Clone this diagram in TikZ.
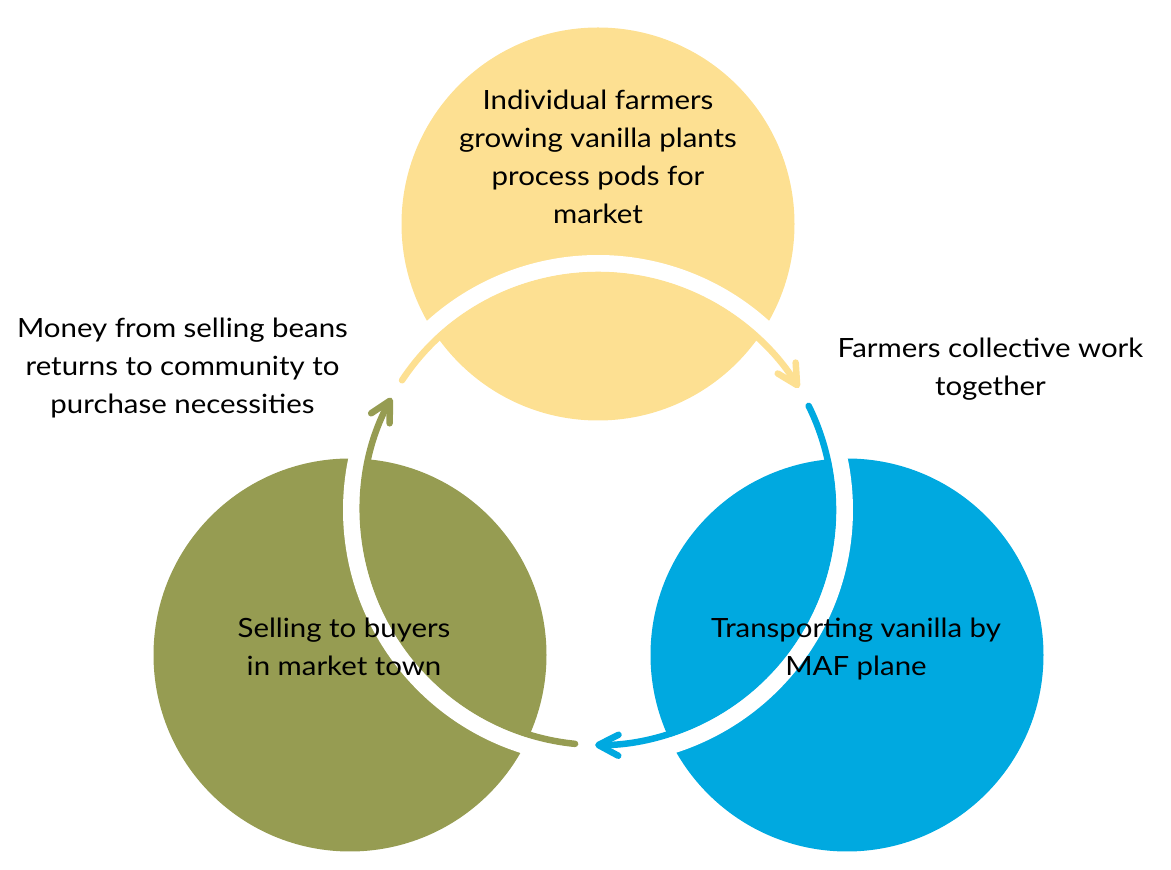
\documentclass[tikz,border=0pt]{standalone}
\usepackage{fontspec}
\setmainfont{Lato}[FakeStretch=1.11]
\usetikzlibrary{arrows.meta}
\definecolor{cyel}{RGB}{253,224,146}
\definecolor{cgrn}{RGB}{150,156,82}
\definecolor{cblu}{RGB}{0,169,224}
\begin{document}
\begin{tikzpicture}[x=1pt,y=1pt,
  disc/.style={circle,draw=none,inner sep=0pt,minimum size=393pt},
  band/.style={draw=white,line width=17pt},
  flow/.style={line width=6.5pt,line cap=round,-{Straight Barb[length=20pt,width=21pt,round]}},
  lbl/.style={inner sep=0pt,align=center,font=\fontsize{26.5}{38}\selectfont,text=black}]
\useasboundingbox (0,0) rectangle (1171,870);
% circles
\node[disc,fill=cyel] (yel) at (598,646) {};
\node[disc,fill=cgrn] (grn) at (350,215) {};
\node[disc,fill=cblu] (blu) at (847,215) {};
\coordinate (ring) at (598,360);
% white bands
\draw[band] ([shift={(146.5:246.5)}]ring) arc[start angle=146.5,end angle=33,radius=246.5];
\draw[band] ([shift={(26.3:246.5)}]ring) arc[start angle=26.3,end angle=-88,radius=246.5];
\draw[band] ([shift={(264.4:246.5)}]ring) arc[start angle=264.4,end angle=153,radius=246.5];
% flow arcs
\coordinate (ys) at ([shift={(146.5:235)}]ring);
\coordinate (bs) at ([shift={(26.3:235)}]ring);
\coordinate (gs) at ([shift={(264.4:235)}]ring);
\draw[flow,cyel] (ys) arc[start angle=146.5,end angle=31.3,radius=235];
\draw[flow,cblu] (bs) arc[start angle=26.3,end angle=-90.7,radius=235];
\draw[flow,cgrn] (gs) arc[start angle=264.4,end angle=151.5,radius=235];
% labels
\node[lbl] (tyel) at (598,711) {\strut Individual farmers\\\strut growing vanilla plants\\\strut process pods for\\\strut market};
\node[lbl] (tleft) at (182.5,502) {\strut Money from selling beans\\\strut returns to community to\\\strut purchase necessities};
\node[lbl] (tright) at (990.5,501) {\strut Farmers collective work\\\strut together};
\node[lbl] (tgrn) at (344,221) {\strut Selling to buyers\\\strut in market town};
\node[lbl] (tblu) at (856,221) {\strut Transporting vanilla by\\\strut MAF plane};
\end{tikzpicture}
\end{document}
